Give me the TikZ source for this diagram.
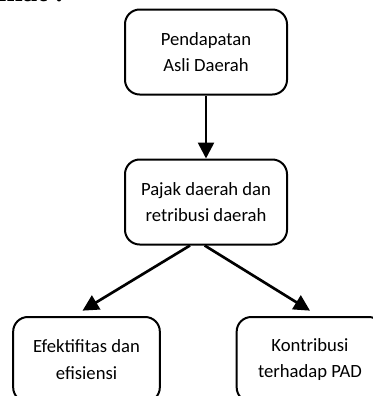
\documentclass[tikz,border=0pt]{standalone}
\usepackage{fontspec}
\setmainfont{Carlito}
\newfontfamily\headfont{Liberation Serif}
\usetikzlibrary{arrows.meta, positioning, calc}

\begin{document}
\begin{tikzpicture}[x=0.75pt, y=-0.75pt,
    box/.style={draw, line width=1.5pt, rounded corners=11pt, align=center,
      minimum height=63.75pt, inner sep=0pt,
      font=\fontsize{14}{20}\selectfont},
    link/.style={line width=2pt, -{Triangle[length=12pt, width=12pt]}}]
  \useasboundingbox (0,0) rectangle (372,396);

  % heading cut off at the top
  \node[anchor=base west, inner sep=0pt, font=\headfont\bfseries\fontsize{22}{24}\selectfont]
    (head) at (-2,2) {mat :};

  % boxes
  \node[box, minimum width=121.5pt] (pad) at (206,52) {Pendapatan\\Asli Daerah};
  \node[box, minimum width=121.5pt] (pajak) at (206,202) {Pajak daerah dan\\retribusi daerah};
  \node[box, minimum width=110pt] (efek) at (86.5,359.5) {Efektifitas dan\\efisiensi};
  \node[box, minimum width=110pt] (kontri) at (310,359.5) {Kontribusi\\terhadap PAD};

  % arrows
  \draw[link] (pad.south) -- (pajak.north);
  \draw[link] ([xshift=-12pt]pajak.south) -- ([xshift=-3pt, yshift=4pt]efek.north);
  \draw[link] ([xshift=-1pt]pajak.south) -- ([yshift=4pt]kontri.north);
\end{tikzpicture}
\end{document}
